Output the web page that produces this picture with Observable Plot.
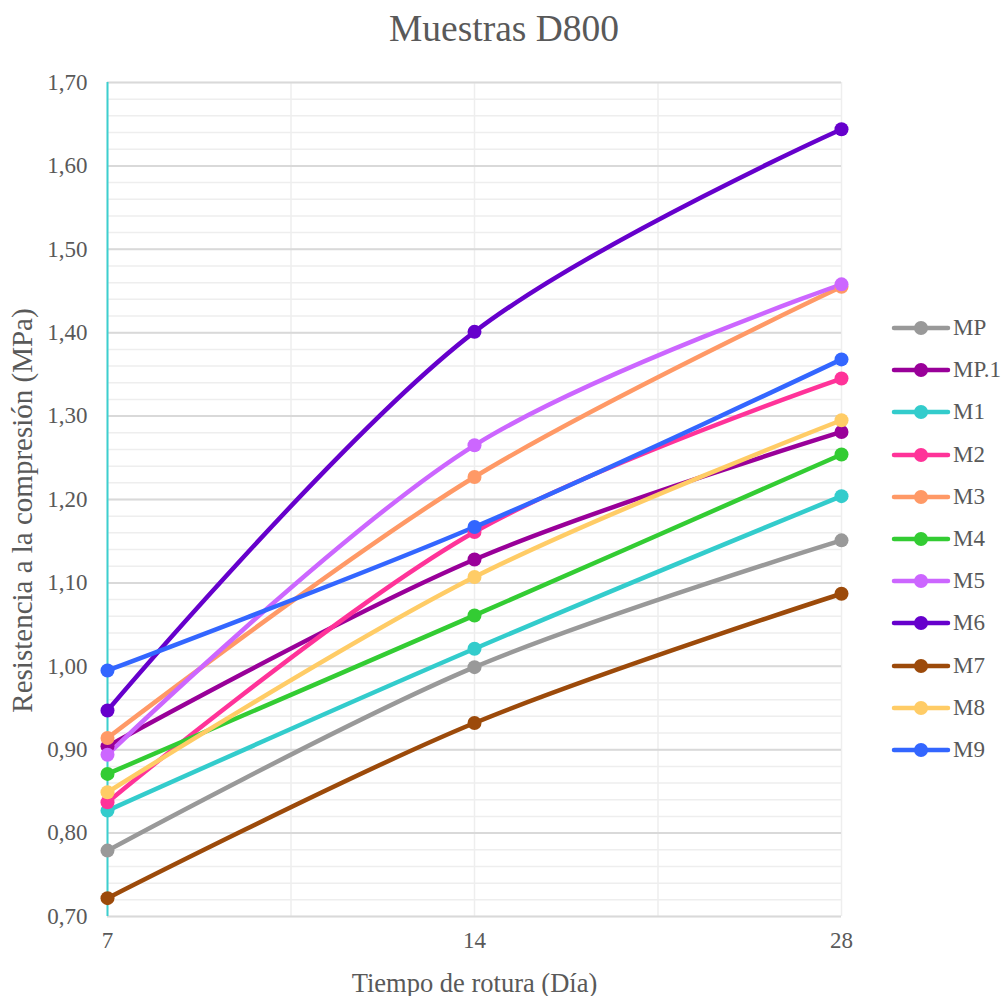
<!DOCTYPE html>
<html>
<head>
<meta charset="utf-8">
<script src="https://cdn.jsdelivr.net/npm/d3@7"></script>
<script src="https://cdn.jsdelivr.net/npm/@observablehq/plot@0.6"></script>
<style>
  html, body { margin: 0; padding: 0; background: #fff; }
  #chart { position: relative; width: 1008px; height: 996px; font-family: "Liberation Serif", "Times New Roman", serif; color: #595959; }
  #title { position: absolute; left: 0; top: 0; width: 1008px; height: 62px; line-height: 58px; text-align: center; font-size: 37.5px; }
  #plot { position: absolute; left: 0; top: 62px; }
  .leg { position: absolute; left: 891px; height: 24px; display: flex; align-items: center; font-size: 23px; }
  .leg svg { display: block; }
  .leg span { margin-left: 2px; }
</style>
</head>
<body>
<div id="chart">
  <div id="title">Muestras D800</div>
  <div id="plot"></div>
</div>
<script>
const days = [7, 14, 28];
const series = ["MP", "MP.1", "M1", "M2", "M3", "M4", "M5", "M6", "M7", "M8", "M9"];
const colors = ["#999999", "#990099", "#33CCCC", "#FF3399", "#FF9966", "#33CC33", "#CC66FF", "#6600CC", "#9C4A0A", "#FFCC66", "#3366FF"];
const MP   = [0.779, 0.999, 1.151];
const MP1  = [0.904, 1.128, 1.281];
const M1   = [0.827, 1.021, 1.204];
const M2   = [0.837, 1.161, 1.345];
const M3   = [0.914, 1.227, 1.455];
const M4   = [0.871, 1.061, 1.254];
const M5   = [0.894, 1.265, 1.458];
const M6   = [0.947, 1.401, 1.644];
const M7   = [0.722, 0.932, 1.087];
const M8   = [0.849, 1.107, 1.295];
const M9   = [0.995, 1.167, 1.368];
const yTicks = [0.70, 0.80, 0.90, 1.00, 1.10, 1.20, 1.30, 1.40, 1.50, 1.60, 1.70];
const yMinor = d3.range(0, 51).map(i => 0.70 + i * 0.02);
const xGrid = [0, 0.5, 1, 1.5, 2];

const valuesList = [MP, MP1, M1, M2, M3, M4, M5, M6, M7, M8, M9];
const data = [];
series.forEach((s, k) => valuesList[k].forEach((v, i) => data.push({series: s, i, day: days[i], value: v})));

const fmt = v => d3.format(".2f")(v).replace(".", ",");

const plot = Plot.plot({
  width: 1008,
  height: 934,
  marginTop: 20,
  marginLeft: 107,
  marginRight: 167,
  marginBottom: 80,
  style: {fontFamily: "Liberation Serif, Times New Roman, serif", color: "#595959", background: "transparent", overflow: "visible"},
  x: {domain: [0, 2]},
  y: {domain: [0.70, 1.70]},
  color: {domain: series, range: colors},
  marks: [
    Plot.ruleY(yMinor, {stroke: "#eeeeee", strokeWidth: 1.5}),
    Plot.ruleX(xGrid, {stroke: "#eeeeee", strokeWidth: 1.5}),
    Plot.ruleY(yTicks, {stroke: "#d9d9d9", strokeWidth: 2}),
    Plot.ruleX([0], {stroke: "#3CCFCF", strokeWidth: 2}),
    Plot.axisY({ticks: yTicks, tickFormat: fmt, tickSize: 0, tickPadding: 20, fontSize: 23, label: null}),
    Plot.axisX({ticks: [0, 1, 2], tickFormat: i => String(days[i]), tickSize: 0, tickPadding: 15, fontSize: 23, label: null}),
    Plot.text(["Tiempo de rotura (Día)"], {frameAnchor: "bottom", dy: 67, fontSize: 26.5, lineAnchor: "middle", textAnchor: "middle", fill: "#595959"}),
    Plot.text(["Resistencia a la compresión (MPa)"], {frameAnchor: "left", rotate: -90, dx: -85, dy: 11, fontSize: 29, lineAnchor: "middle", textAnchor: "middle", fill: "#595959"}),
    Plot.line(data, {x: "i", y: "value", z: "series", stroke: "series", strokeWidth: 4.5, curve: "catmull-rom"}),
    Plot.dot(data, {x: "i", y: "value", fill: "series", r: 7})
  ]
});
document.getElementById("plot").appendChild(plot);

const chart = document.getElementById("chart");
series.forEach((s, k) => {
  const yc = 328 + k * 42.2;
  const d = document.createElement("div");
  d.className = "leg";
  d.style.top = (yc - 12) + "px";
  d.innerHTML = `<svg width="60" height="20"><line x1="3" y1="10" x2="57" y2="10" stroke="${colors[k]}" stroke-width="4.5" stroke-linecap="round"/><circle cx="30" cy="10" r="7" fill="${colors[k]}"/></svg><span>${s}</span>`;
  chart.appendChild(d);
});
</script>
</body>
</html>
